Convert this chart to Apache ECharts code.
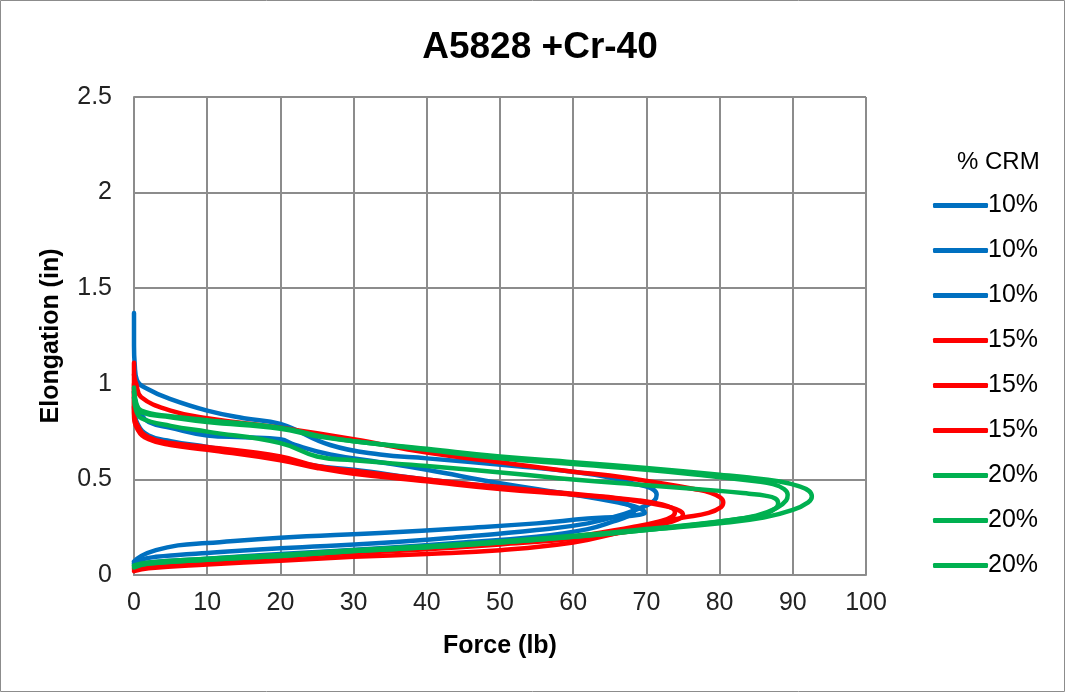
<!DOCTYPE html>
<html>
<head>
<meta charset="utf-8">
<script src="https://cdn.jsdelivr.net/npm/echarts@6/dist/echarts.min.js"></script>
<style>
  html, body { margin: 0; padding: 0; background: #fff; }
  #chart { width: 1066px; height: 693px; }
</style>
</head>
<body>
<div id="chart"></div>
<script>
// 轴刻度
const forceTicks = [0, 10, 20, 30, 40, 50, 60, 70, 80, 90, 100];
const elongTicks = [0, 0.5, 1, 1.5, 2, 2.5];

// 每条曲线: [Force (lb), Elongation (in)]
const crm10a = [
    [0, 0.06], [1, 0.08], [3, 0.095], [6, 0.105], [10, 0.115], [20, 0.14], [33.6, 0.167],
    [45, 0.2], [55, 0.235], [62, 0.27], [67, 0.32], [69.8, 0.36], [71.1, 0.39], [71.4, 0.42],
    [71, 0.445], [69.8, 0.465], [68, 0.48], [65, 0.51], [60, 0.54], [52, 0.57], [40, 0.61],
    [33.6, 0.63], [26.8, 0.68], [20, 0.79], [15, 0.82], [10, 0.86], [5, 0.92], [2, 0.97],
    [0.4, 1.02], [0.1, 1.1], [0, 1.2], [0, 1.37]
];
const crm10b = [
    [0, 0.07], [1, 0.1], [3, 0.13], [6, 0.155], [10, 0.167], [20, 0.195], [33.6, 0.22],
    [45, 0.245], [55, 0.27], [62, 0.295], [66.5, 0.305], [69, 0.315], [69.8, 0.325],
    [69.5, 0.34], [68.3, 0.36], [66, 0.38], [60, 0.42], [50, 0.48], [40, 0.55], [33.6, 0.59],
    [26.8, 0.63], [22, 0.68], [20, 0.71], [15, 0.72], [10, 0.73], [5, 0.77], [2, 0.8],
    [0.8, 0.85], [0.2, 0.9], [0, 0.96]
];
const crm10c = [
    [0, 0.05], [2, 0.065], [10, 0.085], [20, 0.11], [33.6, 0.14], [45, 0.17], [55, 0.2],
    [62, 0.24], [65.5, 0.28], [67.6, 0.31], [68.3, 0.335], [67.9, 0.36], [66.5, 0.38],
    [64, 0.4], [58, 0.43], [50, 0.46], [40, 0.5], [30, 0.55], [25, 0.57], [20, 0.61],
    [10, 0.67], [5, 0.7], [2, 0.73], [0.5, 0.79], [0, 0.88]
];
const crm15a = [
    [0, 0.02], [2, 0.035], [10, 0.055], [20, 0.075], [30, 0.095], [40, 0.11], [50, 0.13],
    [60, 0.17], [66, 0.22], [71, 0.27], [75, 0.3], [78.5, 0.325], [80.2, 0.355], [80.5, 0.38],
    [80.1, 0.405], [78.8, 0.43], [76.5, 0.45], [72, 0.48], [65, 0.52], [60, 0.54], [50, 0.59],
    [40, 0.64], [30, 0.71], [20, 0.77], [10, 0.82], [5, 0.86], [1, 0.93], [0.3, 1.0],
    [0, 1.05], [0, 1.11]
];
const crm15b = [
    [0, 0.03], [2, 0.05], [10, 0.07], [20, 0.095], [30, 0.115], [40, 0.135], [50, 0.16],
    [60, 0.19], [68, 0.23], [72, 0.265], [74.3, 0.29], [75, 0.315], [74.6, 0.335],
    [73.2, 0.355], [70.5, 0.375], [66, 0.4], [60, 0.42], [50, 0.45], [40, 0.49], [30, 0.53],
    [25, 0.56], [20, 0.6], [10, 0.655], [5, 0.68], [2, 0.71], [0.5, 0.76], [0, 0.85], [0, 1.0]
];
const crm15c = [
    [0, 0.035], [2, 0.055], [10, 0.08], [20, 0.1], [30, 0.12], [40, 0.14], [50, 0.165],
    [60, 0.2], [68, 0.25], [71.8, 0.28], [73.5, 0.305], [73.9, 0.33], [73.5, 0.35],
    [72, 0.37], [69, 0.39], [64, 0.41], [60, 0.425], [50, 0.46], [40, 0.5], [30, 0.545],
    [25, 0.57], [20, 0.62], [10, 0.67], [5, 0.69], [2, 0.72], [0.5, 0.78], [0, 0.87], [0, 1.05]
];
const crm20a = [
    [0, 0.04], [2, 0.06], [10, 0.08], [20, 0.1], [30, 0.125], [40, 0.145], [50, 0.17],
    [60, 0.2], [70, 0.235], [80, 0.27], [86, 0.3], [90, 0.34], [92.1, 0.38], [92.6, 0.41],
    [92.2, 0.44], [90.8, 0.465], [88, 0.49], [84, 0.51], [80, 0.525], [70, 0.56], [60, 0.59],
    [50, 0.62], [40, 0.66], [30, 0.7], [25, 0.73], [20, 0.77], [10, 0.81], [5, 0.83],
    [1, 0.86], [0.3, 0.9], [0, 0.98]
];
const crm20b = [
    [0, 0.05], [2, 0.065], [10, 0.085], [20, 0.105], [30, 0.13], [40, 0.15], [50, 0.175],
    [60, 0.205], [70, 0.24], [80, 0.28], [85, 0.31], [87.8, 0.35], [89.1, 0.39], [89.3, 0.42],
    [88.8, 0.45], [87.3, 0.475], [85, 0.49], [78, 0.52], [70, 0.55], [60, 0.58], [50, 0.61],
    [40, 0.655], [30, 0.7], [25, 0.725], [20, 0.765], [10, 0.8], [5, 0.825], [1, 0.85],
    [0.3, 0.89], [0, 0.96]
];
const crm20c = [
    [0, 0.045], [2, 0.06], [10, 0.08], [20, 0.1], [30, 0.125], [40, 0.145], [50, 0.17],
    [60, 0.2], [70, 0.235], [78, 0.27], [83, 0.295], [86.3, 0.32], [87.7, 0.35], [88, 0.375],
    [87.6, 0.4], [86.2, 0.415], [84, 0.425], [80, 0.44], [70, 0.47], [60, 0.5], [52, 0.53],
    [40, 0.57], [30, 0.6], [25, 0.62], [20, 0.69], [10, 0.75], [5, 0.78], [1, 0.82],
    [0.3, 0.86], [0, 0.93]
];

const curves = [
    { name: '10% a', color: '#0070C0', data: crm10a },
    { name: '10% b', color: '#0070C0', data: crm10b },
    { name: '10% c', color: '#0070C0', data: crm10c },
    { name: '15% a', color: '#FF0000', data: crm15a },
    { name: '15% b', color: '#FF0000', data: crm15b },
    { name: '15% c', color: '#FF0000', data: crm15c },
    { name: '20% a', color: '#00B050', data: crm20a },
    { name: '20% b', color: '#00B050', data: crm20b },
    { name: '20% c', color: '#00B050', data: crm20c }
];

const font = 'Liberation Sans, Arial, sans-serif';
const chart = echarts.init(document.getElementById('chart'));

chart.setOption({
    backgroundColor: '#fff',
    animation: false,
    title: [
        {
            text: 'A5828 +Cr-40',
            left: 535,
            top: 24,
            textAlign: 'center',
            textStyle: { fontFamily: font, fontSize: 37, fontWeight: 'bold', color: '#000' }
        },
        {
            text: '% CRM',
            left: 952,
            top: 145,
            textStyle: { fontFamily: font, fontSize: 24, fontWeight: 'normal', color: '#000' }
        }
    ],
    legend: {
        orient: 'vertical',
        left: 928,
        top: 188,
        icon: 'roundRect',
        itemWidth: 55,
        itemHeight: 5,
        itemGap: 20,
        data: curves.map((c) => c.name),
        formatter: (name) => name.split(' ')[0],
        textStyle: { fontFamily: font, fontSize: 25, color: '#000', padding: [0, 0, 0, -5] }
    },
    grid: {
        left: 134,
        right: 200,
        top: 97,
        bottom: 118
    },
    xAxis: {
        type: 'value',
        min: forceTicks[0],
        max: forceTicks[forceTicks.length - 1],
        interval: 10,
        name: 'Force (lb)',
        nameLocation: 'middle',
        nameGap: 59,
        nameTextStyle: { fontFamily: font, fontSize: 25, fontWeight: 'bold', color: '#000' },
        axisLine: { show: true, lineStyle: { color: '#8c8c8c', width: 2 } },
        axisTick: { show: false },
        axisLabel: { fontFamily: font, fontSize: 25, color: '#222', margin: 16 },
        splitLine: { show: true, lineStyle: { color: '#8c8c8c', width: 2 } }
    },
    yAxis: {
        type: 'value',
        min: elongTicks[0],
        max: elongTicks[elongTicks.length - 1],
        interval: 0.5,
        name: 'Elongation (in)',
        nameLocation: 'middle',
        nameGap: 70,
        nameTextStyle: { fontFamily: font, fontSize: 25, fontWeight: 'bold', color: '#000' },
        axisLine: { show: true, lineStyle: { color: '#8c8c8c', width: 2 } },
        axisTick: { show: false },
        axisLabel: { fontFamily: font, fontSize: 25, color: '#222', margin: 22 },
        splitLine: { show: true, lineStyle: { color: '#8c8c8c', width: 2 } }
    },
    graphic: [
        {
            type: 'rect',
            shape: { x: 0.5, y: 0.5, width: 1064, height: 691 },
            style: { fill: 'none', stroke: '#8c8c8c', lineWidth: 1 },
            silent: true
        }
    ],
    series: curves.map((c) => ({
        name: c.name,
        type: 'line',
        data: c.data,
        symbol: 'none',
        smooth: 0.45,
        color: c.color,
        lineStyle: { color: c.color, width: 4.5, cap: 'round', join: 'round' }
    }))
});
</script>
</body>
</html>
